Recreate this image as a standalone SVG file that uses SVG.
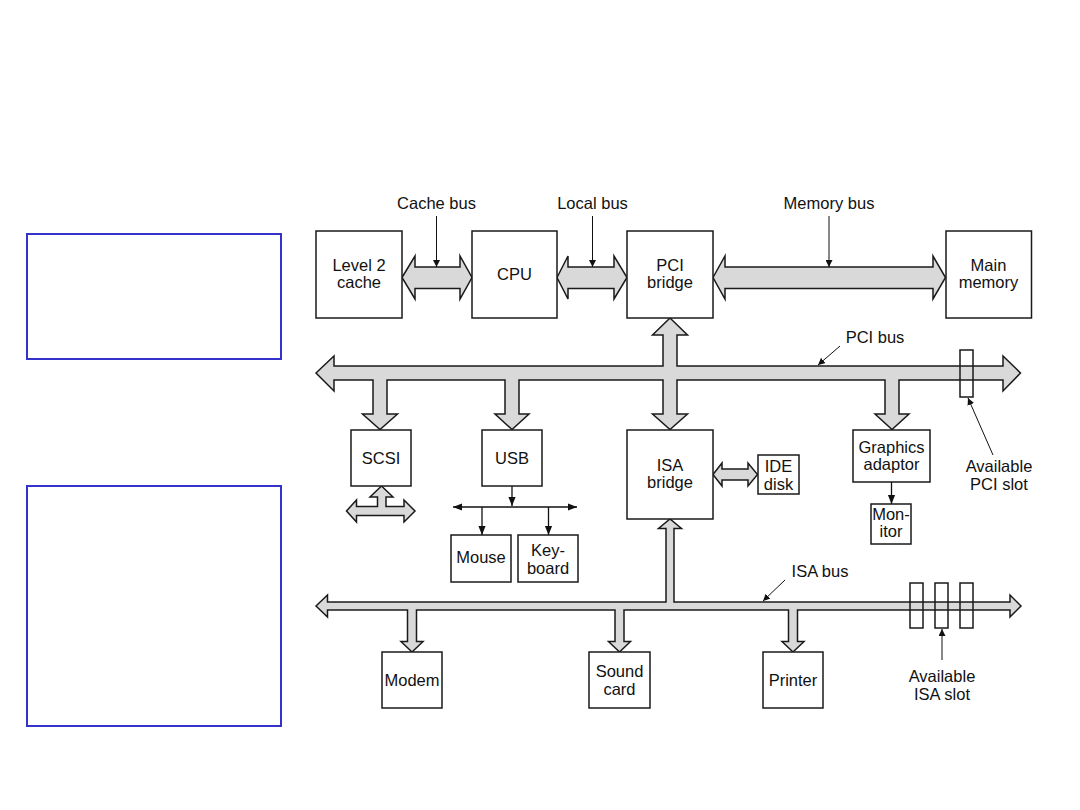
<svg xmlns="http://www.w3.org/2000/svg" width="1080" height="810" viewBox="0 0 1080 810">
<defs>
<marker id="ah" viewBox="0 0 10 10" refX="10" refY="5" markerWidth="7" markerHeight="7" markerUnits="userSpaceOnUse" orient="auto">
<path d="M0,0 L10,5 L0,10 z" fill="#111"/>
</marker>
<marker id="ah2" viewBox="0 0 10 10" refX="10" refY="5" markerWidth="9" markerHeight="9" markerUnits="userSpaceOnUse" orient="auto-start-reverse">
<path d="M0,1 L10,5 L0,9 z" fill="#111"/>
</marker>
</defs>
<style>
.box{fill:#fff;stroke:#1a1a1a;stroke-width:1.5}
.bus{fill:#d9d9d9;stroke:#1a1a1a;stroke-width:1.5;stroke-linejoin:miter}
.slot{fill:none;stroke:#1a1a1a;stroke-width:1.5}
.t{font-family:"Liberation Sans",Arial,sans-serif;font-size:16.5px;fill:#111;text-anchor:middle}
.ln{stroke:#111;stroke-width:1;fill:none}
.ln2{stroke:#111;stroke-width:1.3;fill:none}
.blue{fill:none;stroke:#3333cc;stroke-width:2}
</style>
<rect width="1080" height="810" fill="#fff"/>

<rect class="blue" x="27" y="234" width="254" height="125"/>
<rect class="blue" x="27" y="486" width="254" height="240"/>

<g id="connectors">
<polygon class="bus" points="402,277.5 415,256 415,267 460,267 460,256 472,277.5 460,299 460,288.5 415,288.5 415,299"/>
<polygon class="bus" points="557,277.5 568,256 568,267 614,267 614,256 627,277.5 614,299 614,288.5 568,288.5 568,299"/>
<polygon class="bus" points="713,277.5 725,256 725,267 933,267 933,256 945.5,277.5 933,299 933,288.5 725,288.5 725,299"/>
<polygon class="bus" points="316,373 334,356 334,366 663,366 663,335 652.5,335 670,318 687.5,335 677,335 677,366 1003,366 1003,356 1020.5,373 1003,391 1003,380 899,380 899,414 909,414 892,429.5 875,414 885,414 885,380 677,380 677,414 687.5,414 670,429.5 652.5,414 663,414 663,380 519,380 519,414 529,414 512,429.5 495,414 505,414 505,380 387,380 387,414 397.5,414 380,429.5 362.5,414 373,414 373,380 334,380 334,391"/>
<polygon class="bus" points="316,606 327.5,595 327.5,602 666,602 666,528.5 658.5,528.5 670,519 681.5,528.5 674,528.5 674,602 1010,602 1010,595 1021,606 1010,617 1010,610 797.5,610 797.5,641.5 804,641.5 793,652 782,641.5 788.5,641.5 788.5,610 624,610 624,641.5 630.5,641.5 619.5,652 608.5,641.5 615,641.5 615,610 416.5,610 416.5,641.5 423,641.5 412,652 401,641.5 407.5,641.5 407.5,610 327.5,610 327.5,617"/>
<polygon class="bus" points="346.5,511 356.5,500 356.5,506.5 377.5,506.5 377.5,497 370,497 381.5,486 393,497 386,497 386,506.5 404,506.5 404,500 415,511 404,522 404,515.5 356.5,515.5 356.5,522"/>
<polygon class="bus" points="713,474.5 722,463 722,469 748,469 748,463 757.5,474.5 748,486 748,480 722,480 722,486"/>
<rect class="slot" x="960" y="350" width="13" height="47"/>
<rect class="slot" x="910" y="583" width="13" height="45"/>
<rect class="slot" x="935" y="583" width="13" height="45"/>
<rect class="slot" x="960" y="583" width="13" height="45"/>
<line class="ln2" x1="512" y1="486" x2="512" y2="506" marker-end="url(#ah2)"/>
<line class="ln2" x1="453" y1="507" x2="577" y2="507" marker-start="url(#ah2)" marker-end="url(#ah2)"/>
<line class="ln2" x1="482" y1="507" x2="482" y2="535" marker-end="url(#ah2)"/>
<line class="ln2" x1="548.5" y1="507" x2="548.5" y2="535" marker-end="url(#ah2)"/>
<line class="ln2" x1="891.5" y1="482" x2="891.5" y2="504" marker-end="url(#ah2)"/>
<line class="ln" x1="436.5" y1="216" x2="436.5" y2="267" marker-end="url(#ah)"/>
<line class="ln" x1="592.5" y1="216" x2="592.5" y2="267" marker-end="url(#ah)"/>
<line class="ln" x1="829" y1="216" x2="829" y2="267" marker-end="url(#ah)"/>
<line class="ln" x1="840" y1="346" x2="818" y2="365" marker-end="url(#ah)"/>
<line class="ln" x1="993" y1="455" x2="968" y2="398" marker-end="url(#ah)"/>
<line class="ln" x1="785" y1="580" x2="763" y2="601" marker-end="url(#ah)"/>
<line class="ln" x1="942" y1="660" x2="942" y2="629" marker-end="url(#ah)"/>
</g>

<g id="labels">
<text class="t" x="436.5" y="208.5">Cache bus</text>
<text class="t" x="592.5" y="208.5">Local bus</text>
<text class="t" x="829" y="208.5">Memory bus</text>
<text class="t" x="875" y="343">PCI bus</text>
<text class="t" x="999" y="472">Available</text>
<text class="t" x="999" y="490">PCI slot</text>
<text class="t" x="820" y="577">ISA bus</text>
<text class="t" x="942" y="682">Available</text>
<text class="t" x="942" y="700">ISA slot</text>
</g>

<g id="l2cache"><rect class="box" x="316" y="231" width="86" height="87"/><text class="t" x="359" y="271">Level 2</text><text class="t" x="359" y="288">cache</text></g>
<g id="cpu"><rect class="box" x="472" y="231" width="85" height="87"/><text class="t" x="514.5" y="280">CPU</text></g>
<g id="pcibridge"><rect class="box" x="627" y="231" width="86" height="87"/><text class="t" x="670" y="271">PCI</text><text class="t" x="670" y="288">bridge</text></g>
<g id="mainmemory"><rect class="box" x="946" y="231" width="85.5" height="87"/><text class="t" x="988.5" y="271">Main</text><text class="t" x="988.5" y="288">memory</text></g>
<g id="scsi"><rect class="box" x="351" y="430" width="60" height="56"/><text class="t" x="381" y="464">SCSI</text></g>
<g id="usb"><rect class="box" x="482" y="430" width="60" height="56"/><text class="t" x="512" y="464">USB</text></g>
<g id="isabridge"><rect class="box" x="627" y="430" width="86" height="89"/><text class="t" x="670" y="471">ISA</text><text class="t" x="670" y="488">bridge</text></g>
<g id="idedisk"><rect class="box" x="758" y="455" width="41" height="39"/><text class="t" x="778.5" y="472">IDE</text><text class="t" x="778.5" y="490">disk</text></g>
<g id="graphics"><rect class="box" x="853" y="430" width="77" height="52"/><text class="t" x="891.5" y="453">Graphics</text><text class="t" x="891.5" y="470">adaptor</text></g>
<g id="monitor"><rect class="box" x="871" y="504" width="40" height="40"/><text class="t" x="891" y="520">Mon-</text><text class="t" x="891" y="537">itor</text></g>
<g id="mouse"><rect class="box" x="451" y="535" width="60" height="47"/><text class="t" x="481" y="563">Mouse</text></g>
<g id="keyboard"><rect class="box" x="518" y="535" width="60" height="47"/><text class="t" x="548" y="556">Key-</text><text class="t" x="548" y="574">board</text></g>
<g id="modem"><rect class="box" x="382" y="652" width="60" height="56"/><text class="t" x="412" y="686">Modem</text></g>
<g id="soundcard"><rect class="box" x="589" y="652" width="61" height="56"/><text class="t" x="619.5" y="677">Sound</text><text class="t" x="619.5" y="695">card</text></g>
<g id="printer"><rect class="box" x="763" y="652" width="60" height="56"/><text class="t" x="793" y="686">Printer</text></g>
</svg>
